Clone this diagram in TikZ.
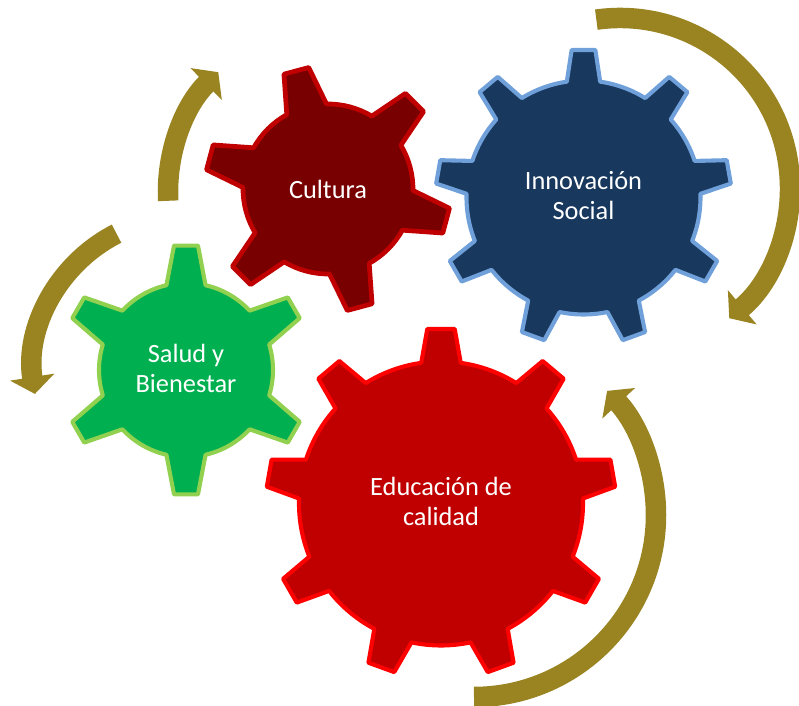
\documentclass[tikz,border=0pt]{standalone}
\usepackage{fontspec}
\setmainfont{Carlito}
\usetikzlibrary{arrows.meta}
\definecolor{edufill}{RGB}{192,0,0}
\definecolor{edudraw}{RGB}{255,0,0}
\definecolor{culfill}{RGB}{120,0,0}
\definecolor{culdraw}{RGB}{192,0,0}
\definecolor{innfill}{RGB}{24,56,94}
\definecolor{inndraw}{RGB}{112,160,218}
\definecolor{salfill}{RGB}{0,176,80}
\definecolor{saldraw}{RGB}{146,208,80}
\definecolor{arrowgold}{RGB}{153,132,33}
% style, centre, teeth, root radius, tip radius, base half angle, tip half angle, first tooth
\newcommand{\drawgear}[8]{%
  \draw[#1, shift={(#2)}] (#8-#6:#4)
    \foreach \k [evaluate=\k as \t using #8+(\k-1)*360/#3,
                 evaluate=\k as \s using #8+(\k-1)*360/#3+#6,
                 evaluate=\k as \e using #8+\k*360/#3-#6] in {1,...,#3} {
      -- (\t-#7:#5) -- (\t+#7:#5) -- (\t+#6:#4)
      arc[start angle=\s, end angle=\e, radius=#4]
    } -- cycle;
}
\begin{document}
\begin{tikzpicture}[x=0.03cm, y=0.03cm, line join=round,
    >={Triangle[length=14.5pt, width=37.5pt]},
    font=\fontsize{22.5}{25.6}\selectfont,
    geartext/.style={text=white, align=center},
    spin/.style={draw=arrowgold, line width=17.5pt, ->}]
  \useasboundingbox (0,0) rectangle (799,706);
  \coordinate (G1) at (441,202.5);
  \coordinate (G2) at (583.5,508.5);
  \coordinate (G3) at (328,517);
  \coordinate (G4) at (186,336);
  \coordinate (O1) at (620,518);
  \coordinate (O2) at (474,191);
  \coordinate (O3) at (336,514);
  \coordinate (O4) at (186,336);
  \drawgear{fill=edufill, draw=edudraw, line width=3.5pt}{G1}{9}{142}{175}{8}{4.5}{90}
  \drawgear{fill=innfill, draw=inndraw, line width=3.5pt}{G2}{9}{117}{148}{8.2}{4.6}{90}
  \drawgear{fill=culfill, draw=culdraw, line width=4pt}{G3}{6}{85}{123}{14}{6}{105}
  \drawgear{fill=salfill, draw=saldraw, line width=3.5pt}{G4}{6}{87}{125}{13}{5.5}{90}
  \node[geartext] (educacion) at ([yshift=2]G1) {Educación de\\calidad};
  \node[geartext] (innovacion) at ([yshift=2]G2) {Innovación\\Social};
  \node[geartext] (cultura) at (G3) {Cultura};
  \node[geartext] (salud) at ([yshift=1]G4) {Salud y\\Bienestar};
  \draw[spin, shift={(O1)}] (98:170) arc[start angle=98, end angle=-50, radius=170];
  \draw[spin, shift={(O2)}] (-90:182) arc[start angle=-90, end angle=43, radius=182];
  \draw[spin, shift={(O3)}] (183:168) arc[start angle=183, end angle=134.5, radius=168];
  \draw[spin, shift={(O4)}] (117:153) arc[start angle=117, end angle=189, radius=153];
\end{tikzpicture}
\end{document}
